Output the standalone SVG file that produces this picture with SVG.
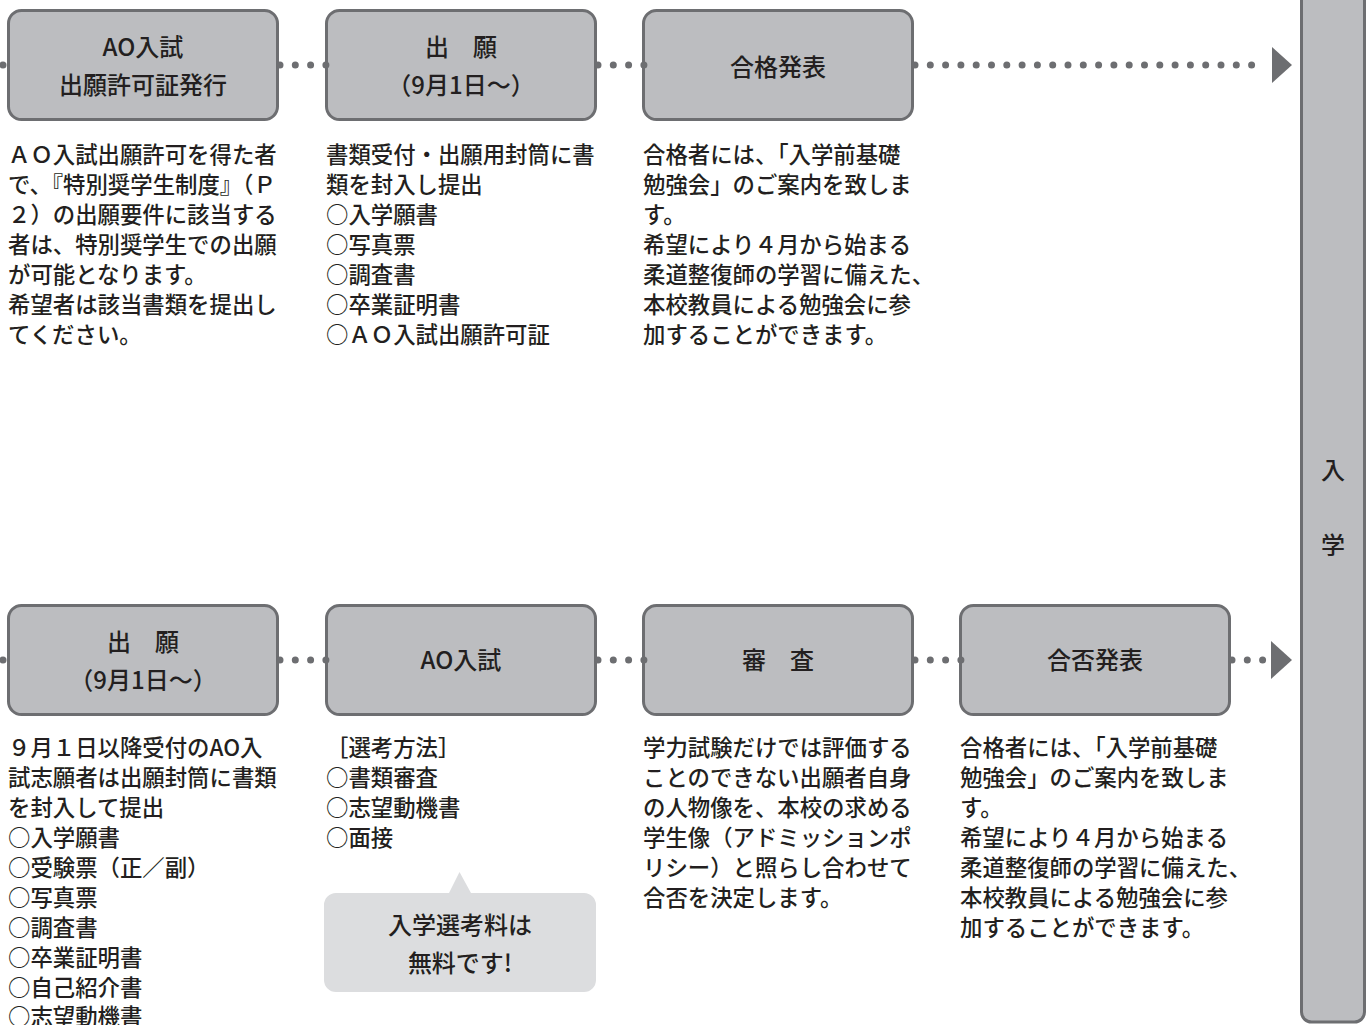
<svg xmlns="http://www.w3.org/2000/svg" width="1370" height="1025" viewBox="0 0 1370 1025">
<defs>
<style>
.box{fill:#bcbdc0;stroke:#6d6e71;stroke-width:3}
.lbl{font-family:"Noto Sans CJK JP","Noto Sans",sans-serif;font-size:24px;font-weight:500;fill:#231f20;text-anchor:middle}
.body{font-family:"Noto Sans CJK JP","Noto Sans",sans-serif;font-size:22.4px;font-weight:500;fill:#231f20}
.dots{stroke:#6d6e71;stroke-width:7;stroke-linecap:round;stroke-dasharray:0 15.3;fill:none}
.arrow{fill:#6d6e71}
.dot{fill:#6d6e71}
</style>
</defs>
<rect width="1370" height="1025" fill="#ffffff"/>

<g id="bar-nyugaku">
<rect class="box" x="1301.5" y="-30" width="63" height="1052" rx="10"/>
<text class="lbl" x="1333" y="479">入</text>
<text class="lbl" x="1333" y="554">学</text>
</g>

<g id="t1">
<rect class="box" x="8.5" y="10.5" width="269" height="109" rx="13"/>
<text class="lbl" x="143" y="56">AO入試</text>
<text class="lbl" x="143" y="94">出願許可証発行</text>
</g>
<g id="t2">
<rect class="box" x="326.5" y="10.5" width="269" height="109" rx="13"/>
<text class="lbl" x="461" y="56">出　願</text>
<text class="lbl" x="461" y="94">（9月1日～）</text>
</g>
<g id="t3">
<rect class="box" x="643.5" y="10.5" width="269" height="109" rx="13"/>
<text class="lbl" x="778" y="76">合格発表</text>
</g>

<g id="b1">
<rect class="box" x="8.5" y="605.5" width="269" height="109" rx="13"/>
<text class="lbl" x="143" y="651">出　願</text>
<text class="lbl" x="143" y="689">（9月1日～）</text>
</g>
<g id="b2">
<rect class="box" x="326.5" y="605.5" width="269" height="109" rx="13"/>
<text class="lbl" x="461" y="669">AO入試</text>
</g>
<g id="b3">
<rect class="box" x="643.5" y="605.5" width="269" height="109" rx="13"/>
<text class="lbl" x="778" y="669">審　査</text>
</g>
<g id="b4">
<rect class="box" x="960.5" y="605.5" width="269" height="109" rx="13"/>
<text class="lbl" x="1095" y="669">合否発表</text>
</g>

<g id="connectors">
<circle class="dot" cx="3" cy="65" r="3.5"/>
<circle class="dot" cx="3" cy="660" r="3.5"/>
<line class="dots" x1="280" y1="65" x2="326" y2="65"/>
<line class="dots" x1="598" y1="65" x2="644" y2="65"/>
<line class="dots" x1="915" y1="65" x2="1266" y2="65"/>
<polygon class="arrow" points="1272,47 1292,65 1272,83"/>
<line class="dots" x1="280" y1="660" x2="326" y2="660"/>
<line class="dots" x1="598" y1="660" x2="644" y2="660"/>
<line class="dots" x1="915" y1="660" x2="961" y2="660"/>
<line class="dots" x1="1232" y1="660" x2="1264" y2="660"/>
<polygon class="arrow" points="1271,641 1292,660 1271,679"/>
</g>

<g id="text-t1" class="body">
<text x="8" y="163">ＡＯ入試出願許可を得た者</text>
<text x="8" y="193">で、『特別奨学生制度』（Ｐ</text>
<text x="8" y="223">２）の出願要件に該当する</text>
<text x="8" y="253">者は、特別奨学生での出願</text>
<text x="8" y="283">が可能となります。</text>
<text x="8" y="313">希望者は該当書類を提出し</text>
<text x="8" y="343">てください。</text>
</g>
<g id="text-t2" class="body">
<text x="326" y="163">書類受付・出願用封筒に書</text>
<text x="326" y="193">類を封入し提出</text>
<text x="326" y="223">○入学願書</text>
<text x="326" y="253">○写真票</text>
<text x="326" y="283">○調査書</text>
<text x="326" y="313">○卒業証明書</text>
<text x="326" y="343">○ＡＯ入試出願許可証</text>
</g>
<g id="text-t3" class="body">
<text x="643" y="163">合格者には、「入学前基礎</text>
<text x="643" y="193">勉強会」のご案内を致しま</text>
<text x="643" y="223">す。</text>
<text x="643" y="253">希望により４月から始まる</text>
<text x="643" y="283">柔道整復師の学習に備えた、</text>
<text x="643" y="313">本校教員による勉強会に参</text>
<text x="643" y="343">加することができます。</text>
</g>

<g id="text-b1" class="body">
<text x="8" y="756">９月１日以降受付のAO入</text>
<text x="8" y="786">試志願者は出願封筒に書類</text>
<text x="8" y="816">を封入して提出</text>
<text x="8" y="846">○入学願書</text>
<text x="8" y="876">○受験票（正／副）</text>
<text x="8" y="906">○写真票</text>
<text x="8" y="936">○調査書</text>
<text x="8" y="966">○卒業証明書</text>
<text x="8" y="996">○自己紹介書</text>
<text x="8" y="1025">○志望動機書</text>
</g>
<g id="text-b2" class="body">
<text x="326" y="756">［選考方法］</text>
<text x="326" y="786">○書類審査</text>
<text x="326" y="816">○志望動機書</text>
<text x="326" y="846">○面接</text>
</g>
<g id="text-b3" class="body">
<text x="643" y="756">学力試験だけでは評価する</text>
<text x="643" y="786">ことのできない出願者自身</text>
<text x="643" y="816">の人物像を、本校の求める</text>
<text x="643" y="846">学生像（アドミッションポ</text>
<text x="643" y="876">リシー）と照らし合わせて</text>
<text x="643" y="906">合否を決定します。</text>
</g>
<g id="text-b4" class="body">
<text x="960" y="756">合格者には、「入学前基礎</text>
<text x="960" y="786">勉強会」のご案内を致しま</text>
<text x="960" y="816">す。</text>
<text x="960" y="846">希望により４月から始まる</text>
<text x="960" y="876">柔道整復師の学習に備えた、</text>
<text x="960" y="906">本校教員による勉強会に参</text>
<text x="960" y="936">加することができます。</text>
</g>

<g id="callout">
<path d="M336,893 H449 L459.5,872 L471,893 H584 A12,12 0 0 1 596,905 V980 A12,12 0 0 1 584,992 H336 A12,12 0 0 1 324,980 V905 A12,12 0 0 1 336,893 Z" fill="#dcdddf"/>
<text class="lbl" x="460" y="934">入学選考料は</text>
<text class="lbl" x="460" y="972">無料です!</text>
</g>
</svg>
